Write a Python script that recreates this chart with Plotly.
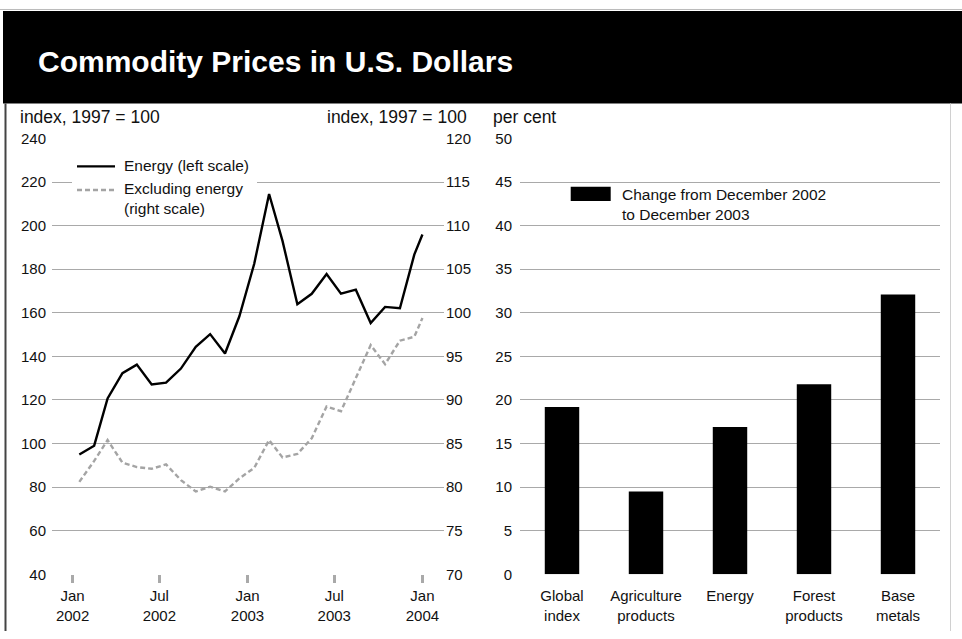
import plotly.graph_objects as go

W, H = 962, 639

# ---------------- data ----------------
dates = ["2002-01-15", "2002-02-15", "2002-03-15", "2002-04-15", "2002-05-15", "2002-06-15",
         "2002-07-15", "2002-08-15", "2002-09-15", "2002-10-15", "2002-11-15", "2002-12-15",
         "2003-01-15", "2003-02-15", "2003-03-15", "2003-04-15", "2003-05-15", "2003-06-15",
         "2003-07-15", "2003-08-15", "2003-09-15", "2003-10-15", "2003-11-15", "2003-12-15",
         "2004-01-01"]
energy = [95, 99, 120.7, 132.3, 136.2, 127.1, 127.9, 134.4, 144.4, 150.2, 141.3, 158.4,
          182.5, 214.5, 193, 163.9, 168.7, 177.8, 168.8, 170.6, 155.3, 162.7, 162.1, 186.7, 195.9]
ex_energy = [80.6, 83.0, 85.4, 82.8, 82.3, 82.1, 82.6, 80.8, 79.5, 80.05, 79.5, 81.0,
             82.2, 85.4, 83.4, 83.8, 85.6, 89.25, 88.7, 92.5, 96.3, 94.1, 96.8, 97.25, 99.4]

x_tick_dates = ["2002-01-01", "2002-07-01", "2003-01-01", "2003-07-01", "2004-01-01"]
x_tick_labels = ["Jan<br>2002", "Jul<br>2002", "Jan<br>2003", "Jul<br>2003", "Jan<br>2004"]

categories = ["Global index", "Agriculture products", "Energy", "Forest products", "Base metals"]
category_labels = ["Global<br>index", "Agriculture<br>products", "Energy",
                   "Forest<br>products", "Base<br>metals"]
changes = [19.2, 9.5, 16.9, 21.8, 32.1]

FONT = "Liberation Sans, Arial, Helvetica, sans-serif"
GRID = "#a9a9a9"
DASH_GRAY = "#a4a4a4"


def fx(px):
    return px / W


def fy(py):
    return 1 - py / H


fig = go.Figure()
fig.add_trace(go.Scatter(x=dates, y=energy, mode="lines", name="Energy (left scale)",
                         line=dict(color="black", width=2.4), xaxis="x", yaxis="y",
                         showlegend=False))
fig.add_trace(go.Scatter(x=dates, y=ex_energy, mode="lines",
                         name="Excluding energy (right scale)",
                         line=dict(color=DASH_GRAY, width=2.4, dash="5px,3px"),
                         xaxis="x", yaxis="y2", showlegend=False))
fig.add_trace(go.Bar(x=categories, y=changes, name="Change from December 2002 to December 2003",
                     marker=dict(color="black", line=dict(width=0)), width=0.41,
                     xaxis="x2", yaxis="y3", showlegend=False))

ydom = [fy(580.7), fy(133)]
tickfont = dict(family=FONT, size=15, color="#111")

fig.update_layout(
    width=W, height=H,
    margin=dict(l=0, r=0, t=0, b=0),
    paper_bgcolor="white", plot_bgcolor="rgba(0,0,0,0)",
    font=dict(family=FONT, color="#111"),
    xaxis=dict(domain=[fx(52), fx(444)], type="date",
               range=["2001-11-19", "2004-02-15"], anchor="y",
               tickmode="array", tickvals=x_tick_dates, ticktext=x_tick_labels,
               tickfont=tickfont, ticks="outside",
               ticklen=8, tickwidth=2.5, tickcolor=GRID, showgrid=False,
               zeroline=False, showline=False, ticklabelstandoff=0),
    yaxis=dict(domain=ydom, range=[40, 240], dtick=20, tick0=40, anchor="x",
               showgrid=True, gridcolor=GRID, gridwidth=1.3, zeroline=False,
               ticks="", tickfont=tickfont, ticklabelstandoff=5),
    yaxis2=dict(domain=ydom, range=[70, 120], dtick=5, tick0=70, overlaying="y",
                side="right", anchor="x", showgrid=False, zeroline=False,
                ticks="", tickfont=tickfont, ticklabelstandoff=1),
    xaxis2=dict(domain=[fx(520), fx(940)], anchor="y3", range=[-0.5, 4.5],
                tickmode="array", tickvals=categories, ticktext=category_labels,
                tickfont=tickfont, ticks="", showgrid=False, zeroline=False,
                showline=False, ticklabelstandoff=11),
    yaxis3=dict(domain=ydom, range=[0, 50], dtick=5, tick0=0, anchor="x2",
                showgrid=True, gridcolor=GRID, gridwidth=1.3, zeroline=False,
                ticks="", tickfont=tickfont, ticklabelstandoff=7),
)

shapes = []
# frame & header
shapes.append(dict(type="rect", xref="paper", yref="paper", x0=fx(3), x1=fx(962),
                   y0=fy(97), y1=fy(2), fillcolor="black", line=dict(width=0)))
shapes.append(dict(type="line", xref="paper", yref="paper", x0=0, x1=1,
                   y0=fy(0.5), y1=fy(0.5), line=dict(color="#bbbbbb", width=1)))
shapes.append(dict(type="line", xref="paper", yref="paper", x0=fx(5.5), x1=fx(5.5),
                   y0=0, y1=fy(97), line=dict(color="#444444", width=2)))
shapes.append(dict(type="line", xref="paper", yref="paper", x0=fx(950.5), x1=fx(950.5),
                   y0=0, y1=fy(97), line=dict(color="#d0d0d0", width=1)))
# left legend
shapes.append(dict(type="rect", xref="paper", yref="paper", x0=fx(72), x1=fx(257),
                   y0=fy(215), y1=fy(150), fillcolor="white", line=dict(width=0),
                   layer="above"))
shapes.append(dict(type="line", xref="paper", yref="paper", x0=fx(77), x1=fx(115),
                   y0=fy(161.7), y1=fy(161.7), line=dict(color="black", width=2.4),
                   layer="above"))
shapes.append(dict(type="line", xref="paper", yref="paper", x0=fx(77), x1=fx(115),
                   y0=fy(186), y1=fy(186), line=dict(color=DASH_GRAY, width=2.4,
                                                      dash="5px,3px"), layer="above"))
# right legend swatch
shapes.append(dict(type="rect", xref="paper", yref="paper", x0=fx(570.7), x1=fx(610.7),
                   y0=fy(197.3), y1=fy(182.7), fillcolor="black", line=dict(width=0),
                   layer="above"))

ann = []


def text(px, py, s, size, anchor="left", color="#111", bold=False, valign="middle"):
    ann.append(dict(xref="paper", yref="paper", x=fx(px), y=fy(py), text=s,
                    showarrow=False, xanchor=anchor, yanchor=valign, align="left",
                    font=dict(family=FONT, size=size, color=color,
                              weight="bold" if bold else "normal")))


text(36, 54, "Commodity Prices in U.S. Dollars", 30, color="white", bold=True)
text(18, 110.5, "index, 1997 = 100", 17.5)
text(469, 110.5, "index, 1997 = 100", 17.5, anchor="right")
text(491, 110.5, "per cent", 17.5)
text(122, 161, "Energy (left scale)", 15.5)
text(122, 195, "Excluding energy<br>(right scale)", 15.5)
text(620, 201, "Change from December 2002<br>to December 2003", 15.5)

fig.update_layout(shapes=shapes, annotations=ann)
fig.write_html("out.html", config={"displayModeBar": False},
               post_script="document.body.style.margin='0px';")
